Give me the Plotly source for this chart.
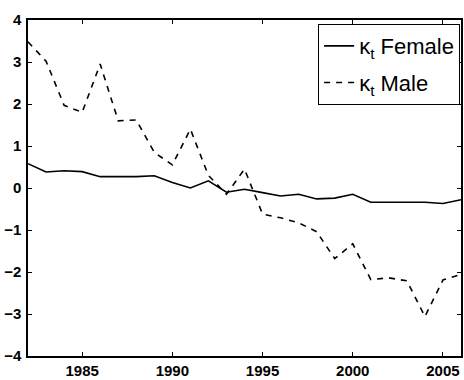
import plotly.graph_objects as go

years = list(range(1982, 2007))

kappa_female = [0.58, 0.38, 0.41, 0.39, 0.27, 0.27, 0.27, 0.29, 0.13, 0.00,
                0.17, -0.10, -0.03, -0.11, -0.19, -0.15, -0.26, -0.24, -0.15,
                -0.34, -0.34, -0.33, -0.34, -0.37, -0.28]

kappa_male = [3.48, 3.02, 1.97, 1.80, 2.95, 1.60, 1.62, 0.85, 0.55, 1.40,
              0.30, -0.15, 0.45, -0.62, -0.71, -0.83, -1.04, -1.68, -1.33,
              -2.18, -2.14, -2.21, -3.06, -2.19, -2.06]

x_ticks = [1985, 1990, 1995, 2000, 2005]
y_ticks = [-4, -3, -2, -1, 0, 1, 2, 3, 4]

fig = go.Figure()
fig.add_trace(go.Scatter(
    x=years, y=kappa_female, mode="lines", name="κ<sub>t</sub> Female",
    line=dict(color="black", width=1.6, dash="solid"), legendgroup="f",
))
fig.add_trace(go.Scatter(
    x=years, y=kappa_male, mode="lines", name="κ<sub>t</sub> Male",
    line=dict(color="black", width=1.6, dash="6px,6px"), legendgroup="m",
))

axis_common = dict(
    showgrid=False, zeroline=False, showline=True, linecolor="black",
    linewidth=1.5, mirror="allticks", ticks="inside", ticklen=4,
    tickcolor="black", tickwidth=1,
    tickfont=dict(family="Liberation Sans, Arial", size=15, color="black",
                  weight="bold"),
)

fig.update_xaxes(range=[1982, 2006], tickvals=x_ticks, **axis_common)
fig.update_yaxes(range=[-4, 4], tickvals=y_ticks, ticklabelstandoff=2,
                 **axis_common)

fig.update_layout(
    width=464, height=380,
    margin=dict(l=28, r=1, t=20, b=22),
    paper_bgcolor="white", plot_bgcolor="white",
    showlegend=True,
    legend=dict(
        x=0.998, y=0.988, xanchor="right", yanchor="top",
        bgcolor="white", bordercolor="black", borderwidth=1,
        font=dict(family="Liberation Sans, Arial", size=22, color="black"),
        tracegroupgap=5, itemwidth=30,
    ),
)

fig.write_html("out.html")
